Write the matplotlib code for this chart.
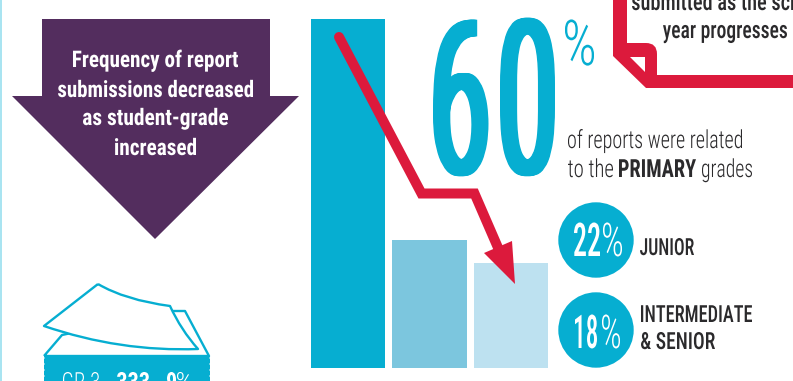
import numpy as np
import matplotlib
matplotlib.use("Agg")
import matplotlib.pyplot as plt
from matplotlib.font_manager import FontProperties
from matplotlib.patches import Circle, PathPatch, Polygon, Rectangle
from matplotlib.path import Path
from matplotlib.patheffects import AbstractPathEffect
from matplotlib.textpath import TextPath
from matplotlib.transforms import Affine2D

# Share of reports per grade group
grade_groups = ["PRIMARY", "JUNIOR", "INTERMEDIATE\n& SENIOR"]
report_shares = [60, 22, 18]
bar_colors = ["#06aed1", "#7cc6de", "#bde1f0"]

TEAL = "#06aed1"
PURPLE = "#532d5e"
RED = "#dc1a3c"
INK = "#2b2a2c"
W, H = 793, 381
CONDENSED = "Roboto Condensed"
PT_TO_PX = 100 / 72

fig = plt.figure(figsize=(W / 100, H / 100), dpi=100, facecolor="white")

# Bars live in their own axes, scaled from the share values
ax_bars = fig.add_axes([311 / W, 1 - 368 / H, 237 / W, 349 / H])
ax_bars.bar(range(3), report_shares, width=0.908, color=bar_colors)
ax_bars.set_xlim(-0.454, 2.454)
ax_bars.set_ylim(0, 60)
ax_bars.axis("off")

# Overlay in pixel units for the annotations around the bars
ax = fig.add_axes([0, 0, 1, 1], facecolor="none", zorder=3)
ax.set_xlim(0, W)
ax.set_ylim(H, 0)
ax.axis("off")


class Squeeze(AbstractPathEffect):
    """Narrow text around an anchor and optionally thicken its vertical stems."""

    def __init__(self, anchor, sx, thicken=0.0):
        super().__init__()
        self.anchor, self.sx, self.thicken = anchor, sx, thicken

    def draw_path(self, renderer, gc, tpath, affine, rgbFace=None):
        offsets = np.linspace(-self.thicken, self.thicken, 9) if self.thicken else [0.0]
        for dx in offsets:
            squeeze = (Affine2D().translate(-self.anchor, 0).scale(self.sx, 1)
                       .translate(self.anchor + dx, 0))
            renderer.draw_path(gc, tpath, affine + squeeze, rgbFace)


def fitted(s, x0, x1, baseline, size, color=INK, weight=400, thicken=0.0):
    """Place text on a baseline so that its inked width spans x0..x1 pixels."""
    x0, x1 = x0 + thicken, x1 - thicken
    prop = FontProperties(family=CONDENSED, weight=weight)
    ink = TextPath((0, 0), s, size=size, prop=prop).get_extents()
    sx = (x1 - x0) / (ink.width * PT_TO_PX)
    origin = x0 - ink.x0 * PT_TO_PX * sx
    t = ax.text(origin, baseline, s, fontsize=size, color=color, fontweight=weight,
                family=CONDENSED, ha="left", va="baseline", clip_on=False)
    t.set_path_effects([Squeeze(origin, sx, thicken)])
    return t


# Page edge strip
ax.add_patch(Rectangle((0, 0), 1.6, H, color="#a9e4f1", lw=0))

# Purple down arrow with its message
ax.add_patch(Polygon([(42, 19), (270, 19), (270, 96), (299, 96), (155, 239), (12, 96), (42, 96)],
                     closed=True, color=PURPLE, lw=0))
message = [("Frequency of report", 73, 238, 67), ("submissions decreased", 58, 253, 97),
           ("as student-grade", 83, 228, 125), ("increased", 115, 196, 155)]
for line, x0, x1, y in message:
    fitted(line, x0, x1, y, 16.5, color="white", weight=700)

# Stacked report sheets above the grade ticket
ax.add_patch(PathPatch(Path([(44, 356), (62, 335), (173, 311), (185, 311), (209, 356), (44, 356)],
                            [1, 2, 2, 2, 2, 2]),
                       facecolor="white", edgecolor=TEAL, lw=1.7, joinstyle="round"))
sheet = Path([(98, 284), (125, 300), (170, 306), (181, 330), (198, 349),
              (120, 352), (44, 326), (98, 284)],
             [1, 3, 3, 3, 3, 3, 3, 2])
ax.add_patch(PathPatch(sheet, facecolor="white", edgecolor=TEAL, lw=1.7, joinstyle="round"))

# Ticket with perforated edges
ax.add_patch(Rectangle((44, 356), 166, 25, color=TEAL, lw=0))
for y in np.arange(358, 382, 6):
    ax.add_patch(Circle((43.5, y), 1.1, color="white", lw=0))
    ax.add_patch(Circle((210.5, y), 1.1, color="white", lw=0))
fitted("GR 3", 63, 99, 390, 18, color="white", weight=300)
fitted("333", 117, 149, 390, 18, color="white", weight=700)
fitted("9", 167, 176, 390, 18, color="white", weight=700)
fitted("%", 177, 192, 390, 18, color="white", weight=300)

# Headline share, one digit at a time so the gap between them stays open
headline = str(report_shares[0])
fitted(headline[0], 433, 488.5, 174, 156, color=TEAL, weight=400, thicken=3.0)
fitted(headline[1], 500, 555, 174, 156, color=TEAL, weight=400, thicken=3.0)
fitted("%", 565, 594, 65, 45.5, color=TEAL, weight=300)

fitted("of reports were related", 568, 742, 148, 18, weight=300)
fitted("to the", 568, 613, 177, 18, weight=300)
fitted(grade_groups[0], 619, 696, 177, 18, weight=700)
fitted("grades", 702, 752, 177, 18, weight=300)

# Circle badges for the other two groups
for (value, cy, base, xs) in ((report_shares[1], 240, 256, (574, 600, 603, 622)),
                              (report_shares[2], 330, 348, (575, 597, 602, 620))):
    ax.add_patch(Circle((596, cy), 37.7, color=TEAL, lw=0))
    fitted(f"{value}", xs[0], xs[1], base, 33.5, color="white", weight=500)
    fitted("%", xs[2], xs[3], base, 33.5, color="white", weight=300)

fitted(grade_groups[1], 640, 694, 255, 17, weight=500)
line_a, line_b = grade_groups[2].split("\n")
fitted(line_a, 641, 752, 322, 17, weight=500)
fitted(line_b, 641, 715, 349, 17, weight=500)

# Red trend arrow across the bars
ax.plot([339, 421.5, 474.5, 499], [37, 193.5, 193.5, 250], color=RED, lw=7.2,
        solid_joinstyle="miter", solid_capstyle="round")
ax.add_patch(Polygon([(484, 253), (512, 241), (515, 284)], closed=True, color=RED, lw=0))

# Red callout frame at the top right
frame = Path([(613, 0), (627, 0), (627, 43), (646, 43), (657, 43), (657, 54), (657, 75),
              (793, 75), (793, 88), (646, 88), (613, 56), (613, 0)],
             [1, 2, 2, 2, 3, 3, 2, 2, 2, 2, 2, 2])
ax.add_patch(PathPatch(frame, facecolor=RED, edgecolor="none", lw=0))
ax.add_patch(Polygon([(630, 57), (645, 57), (645, 72)], closed=True, color="white", lw=0))
fitted("submitted as the school", 632, 824, 10, 17.5, weight=500)
fitted("year progresses", 663, 787, 38, 17.5, weight=500)

fig.savefig("out.png", dpi=100)
